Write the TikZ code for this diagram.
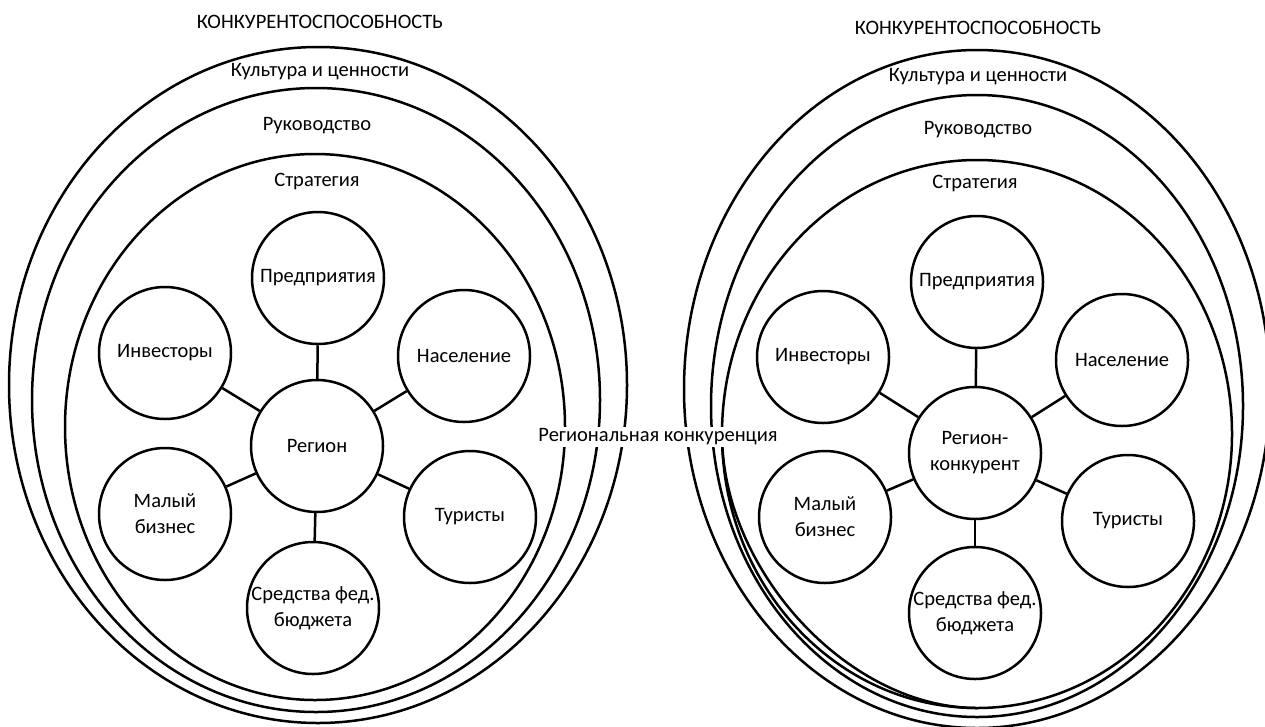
\documentclass[tikz,border=0pt]{standalone}
\usepackage{fontspec}
\setmainfont{Carlito}
\usetikzlibrary{positioning}

\tikzset{
  actor/.style={draw, circle, minimum size=132pt, inner sep=0pt, align=center},
  ring/.style={inner sep=1pt},
  gap/.style={fill=white, inner sep=2pt}
}

\begin{document}
\begin{tikzpicture}[x=1pt, y=-1pt, line width=2.5pt,
    every node/.append style={font=\fontsize{20.5}{26}\selectfont}]
  % 1 unit = 1 px of the original, y grows downwards
  \useasboundingbox (0,0) rectangle (1265,726);
  %
  % left side: region
  \draw (318,385) ellipse [x radius=309, y radius=338];
  \draw (316,400) ellipse [x radius=284, y radius=312];
  \draw (315,427) ellipse [x radius=250, y radius=273];
  \node[ring] (ltitle) at (320,22) {КОНКУРЕНТОСПОСОБНОСТЬ};
  \node[ring] (lcult) at (320,72) {Культура и ценности};
  \node[ring] (lruk) at (317,126) {Руководство};
  \node[ring] (lstr) at (317,181) {Стратегия};
  %
  \node[actor] (lreg) at (317,446) {Регион};
  \node[actor] (lpred) at (318,278) {Предприятия};
  \node[actor] (linv) at (165,353) {Инвесторы};
  \node[actor] (lnas) at (464,356) {Население};
  \node[actor] (lmal) at (165,514) {Малый\\бизнес};
  \node[actor] (ltur) at (470,517) {Туристы};
  \node[actor] (lsr) at (313,608) {Средства фед.\\бюджета};
  \foreach \s in {lpred,linv,lnas,lmal,ltur,lsr}
    \draw (lreg) -- (\s);
  %
  % right side: competing region
  \draw (977,389) ellipse [x radius=293, y radius=339];
  \draw (977,406) ellipse [x radius=266, y radius=311];
  \draw (977,434) ellipse [x radius=255, y radius=274];
  % second stroke of the inner oval, lower left only
  \draw (722,434) .. controls (722,571) and (849,708) .. (977,708);
  \node[ring] (rtitle) at (978,28) {КОНКУРЕНТОСПОСОБНОСТЬ};
  \node[ring] (rcult) at (978,77) {Культура и ценности};
  \node[ring] (rruk) at (978,130) {Руководство};
  \node[ring] (rstr) at (975,183) {Стратегия};
  %
  \node[actor] (rreg) at (975,453) {Регион-\\конкурент};
  \node[actor] (rpred) at (977,282) {Предприятия};
  \node[actor] (rinv) at (823,357) {Инвесторы};
  \node[actor] (rnas) at (1122,360) {Население};
  \node[actor] (rmal) at (825,517) {Малый\\бизнес};
  \node[actor] (rtur) at (1128,521) {Туристы};
  \node[actor] (rsr) at (975,613) {Средства фед.\\бюджета};
  \foreach \s in {rpred,rinv,rnas,rmal,rtur,rsr}
    \draw (rreg) -- (\s);
  %
  % between the two
  \node[gap] (konk) at (658,437) {Региональная конкуренция};
\end{tikzpicture}
\end{document}
